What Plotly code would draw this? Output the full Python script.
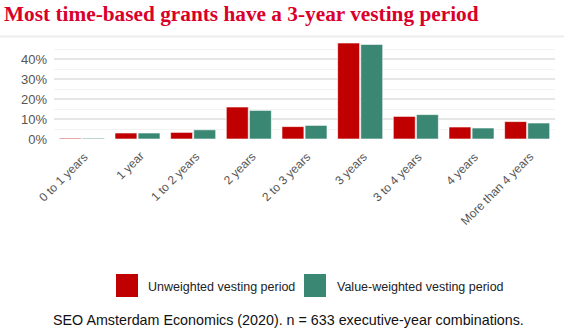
import plotly.graph_objects as go

categories = ["0 to 1 years", "1 year", "1 to 2 years", "2 years", "2 to 3 years",
              "3 years", "3 to 4 years", "4 years", "More than 4 years"]
unweighted = [0.004, 0.030, 0.033, 0.160, 0.062, 0.480, 0.113, 0.060, 0.087]
value_weighted = [0.004, 0.030, 0.046, 0.143, 0.068, 0.473, 0.122, 0.055, 0.080]
series_names = ["Unweighted vesting period", "Value-weighted vesting period"]
y_ticks = [0, 0.1, 0.2, 0.3, 0.4]
y_tick_labels = ["0%", "10%", "20%", "30%", "40%"]

RED = "#C00000"
GREEN = "#3A8774"
W, H = 564, 332
ML, MR, MT, MB = 54, 9, 42, 193
PW, PH = W - ML - MR, H - MT - MB


def px_x(p):
    return (p - ML) / PW


def px_y(p):
    return (H - MB - p) / PH


fig = go.Figure()
for name, vals, col in [(series_names[0], unweighted, RED),
                        (series_names[1], value_weighted, GREEN)]:
    fig.add_trace(go.Bar(
        x=categories, y=vals, name=name, showlegend=False,
        marker=dict(color=col, line=dict(color="rgba(255,255,255,0.6)", width=1)),
    ))

shapes = [
    # rule under the heading
    dict(type="line", xref="paper", yref="paper", x0=px_x(0), x1=px_x(W),
         y0=px_y(36.5), y1=px_y(36.5), line=dict(color="#EDEDED", width=2)),
    # legend keys
    dict(type="rect", xref="paper", yref="paper", x0=px_x(116), x1=px_x(138),
         y0=px_y(297), y1=px_y(274), fillcolor=RED, line=dict(width=0)),
    dict(type="rect", xref="paper", yref="paper", x0=px_x(304), x1=px_x(326),
         y0=px_y(297), y1=px_y(274), fillcolor=GREEN, line=dict(width=0)),
]

annotations = [
    dict(text="Most time-based grants have a 3-year vesting period", xref="paper", yref="paper",
         x=px_x(2), y=px_y(14), xanchor="left", yanchor="middle", showarrow=False,
         font=dict(family="Liberation Serif", size=21.3, color="#D9002B", weight="bold")),
    dict(text=series_names[0], xref="paper", yref="paper", x=px_x(146), y=px_y(287),
         xanchor="left", yanchor="middle", showarrow=False,
         font=dict(family="Liberation Sans", size=12.5, color="#222222")),
    dict(text=series_names[1], xref="paper", yref="paper", x=px_x(335), y=px_y(287),
         xanchor="left", yanchor="middle", showarrow=False,
         font=dict(family="Liberation Sans", size=12.5, color="#222222")),
    dict(text="SEO Amsterdam Economics (2020). n = 633 executive-year combinations.",
         xref="paper", yref="paper", x=px_x(288), y=px_y(320),
         xanchor="center", yanchor="middle", showarrow=False,
         font=dict(family="Liberation Sans", size=14.3, color="#111111")),
]

# slanted category labels, each ending just up-right of its bar pair
for cat in categories:
    annotations.append(dict(
        text=cat, xref="x", yref="paper", x=cat, xshift=12, y=px_y(147),
        xanchor="right", yanchor="top", showarrow=False, textangle=-45,
        font=dict(family="Liberation Sans", size=12, color="#555555"),
    ))

fig.update_layout(
    width=W, height=H,
    margin=dict(l=ML, r=MR, t=MT, b=MB, pad=0),
    paper_bgcolor="white", plot_bgcolor="white",
    barmode="group", bargap=0.17, bargroupgap=0.05,
    shapes=shapes, annotations=annotations,
    font=dict(family="Liberation Sans", color="#555555"),
    xaxis=dict(range=[-0.5, len(categories) - 0.5], autorange=False,
               showticklabels=False, showgrid=False, zeroline=False, showline=False, ticks=""),
)
fig.update_yaxes(
    range=[0, 0.485], tickvals=y_ticks, ticktext=y_tick_labels,
    tickfont=dict(size=13, color="#555555"),
    showgrid=True, gridcolor="#E6E6E6", gridwidth=1.5,
    minor=dict(dtick=0.05, tick0=0, showgrid=True, gridcolor="#F3F3F3", gridwidth=1),
    zeroline=False, showline=False, ticks="", ticklabelstandoff=6,
)

fig.write_html("out.html")
